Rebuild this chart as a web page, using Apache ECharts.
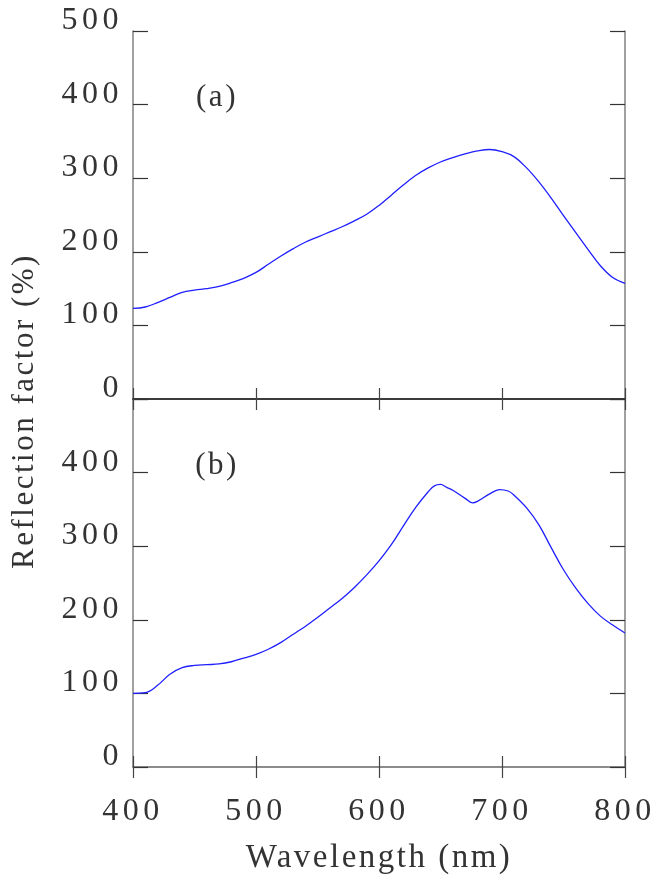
<!DOCTYPE html>
<html>
<head>
<meta charset="utf-8">
<script src="https://cdn.jsdelivr.net/npm/echarts@6/dist/echarts.min.js"></script>
<style>
html,body{margin:0;padding:0;background:#fff;}
#chart{width:654px;height:877px;}
</style>
</head>
<body>
<div id="chart"></div>
<script>
// Panel (a)
const wlA  = [400,410,420,430,440,450,460,470,480,490,500,510,520,530,540,550,560,570,580,590,600,610,620,630,640,650,660,670,680,690,700,710,720,730,740,750,760,770,780,790,800];
const valA = [123,125,131,138,145,148,150,153,158,164,172,183,194,204,213,220,227,234,242,251,263,277,291,304,314,322,328,333,337,339,336,329,314,295,273,249,226,203,181,165,157];
// Panel (b)
const wlB  = [400,410,420,430,440,450,460,470,480,490,500,510,520,530,540,550,560,570,580,590,600,610,620,630,640,645,650,655,660,670,676,680,690,698,705,710,720,730,740,750,760,770,780,790,800];
const valB = [100,101,111,126,135,138,139,140,143,148,153,160,169,180,191,203,216,229,244,261,280,302,328,353,374,382,384,380,376,365,359,361,371,377,375,369,352,329,298,268,243,222,205,193,182];
const xTicks = [400,500,600,700,800];
const yTicks = [0,100,200,300,400,500];
const panelLabels = ['(a)','(b)'];
const xTitle = 'Wavelength (nm)';
const yTitle = 'Reflection factor (%)';

// widen the tracking of canvas text (the reference uses spaced-out lettering)
(function(){
  const P = CanvasRenderingContext2D.prototype;
  const d = Object.getOwnPropertyDescriptor(P, 'font');
  if (d && 'letterSpacing' in P) {
    Object.defineProperty(P, 'font', {
      configurable:true,
      get(){ return d.get.call(this); },
      set(v){ d.set.call(this, v); this.letterSpacing = /\b32px/.test(String(v)) ? '4.5px' : '2.5px'; }
    });
  }
})();

const FONT = '"Liberation Serif", serif';
const TICK_FS = 32;
const chart = echarts.init(document.getElementById('chart'), null, {renderer:'canvas'});

function xAx(grid, pos, lineColor, showLabel, showLine){
  return {
    type:'value', gridIndex:grid, position:pos, min:xTicks[0], max:xTicks[xTicks.length-1], interval:100,
    axisLine:{show:showLine, lineStyle:{color:lineColor, width:1.5}},
    axisTick:{show:true, inside:true, length:11, lineStyle:{color:'#444', width:1.2}},
    axisLabel:{show:showLabel, margin:26, color:'#333', fontFamily:FONT, fontSize:TICK_FS},
    splitLine:{show:false},
    name: (grid===1 && pos==='bottom') ? xTitle : '',
    nameLocation:'middle', nameGap:74,
    nameTextStyle:{color:'#333', fontFamily:FONT, fontSize:33}
  };
}
function yAx(grid, pos, showLabel, hideMax){
  return {
    type:'value', gridIndex:grid, position:pos, min:yTicks[0], max:yTicks[yTicks.length-1], interval:100,
    axisLine:{show:true, lineStyle:{color:'#808080', width:1.5}},
    axisTick:{show:true, inside:true, length:15, lineStyle:{color:'#333', width:1.2}},
    axisLabel:{show:showLabel, margin:10, color:'#333', fontFamily:FONT, fontSize:TICK_FS,
      verticalAlign:'bottom', lineHeight:21,
      formatter: v => (hideMax && v===yTicks[yTicks.length-1]) ? '' : String(v)},
    splitLine:{show:false}
  };
}

chart.setOption({
  animation:false,
  backgroundColor:'#fff',
  grid:[
    {left:133, top:31, width:492, height:368, containLabel:false, outerBoundsMode:'none'},
    {left:133, top:399, width:492, height:368, containLabel:false, outerBoundsMode:'none'}
  ],
  xAxis:[
    xAx(0,'bottom','#222',false,true),
    xAx(0,'top','#333',false,true),
    xAx(1,'bottom','#666',true,true),
    xAx(1,'top','#222',false,false)
  ],
  yAxis:[
    yAx(0,'left',true,false),
    yAx(0,'right',false,false),
    yAx(1,'left',true,true),
    yAx(1,'right',false,false)
  ],
  graphic:[
    {type:'text', x:25, y:411, rotation:Math.PI/2,
     style:{text:yTitle, fill:'#333', font:'31px ' + FONT, textAlign:'center', textVerticalAlign:'middle'}},
    {type:'text', x:217, y:98, style:{text:panelLabels[0], fill:'#333', font:'31px ' + FONT, textAlign:'center', textVerticalAlign:'middle'}},
    {type:'text', x:217, y:466, style:{text:panelLabels[1], fill:'#333', font:'31px ' + FONT, textAlign:'center', textVerticalAlign:'middle'}}
  ],
  series:[
    {type:'line', xAxisIndex:0, yAxisIndex:0, data:wlA.map((w,i)=>[w,valA[i]]), showSymbol:false, smooth:0.4,
     lineStyle:{color:'#1f1fff', width:1.3}},
    {type:'line', xAxisIndex:2, yAxisIndex:2, data:wlB.map((w,i)=>[w,valB[i]]), showSymbol:false, smooth:0.4,
     lineStyle:{color:'#1f1fff', width:1.3}}
  ]
});
</script>
</body>
</html>
